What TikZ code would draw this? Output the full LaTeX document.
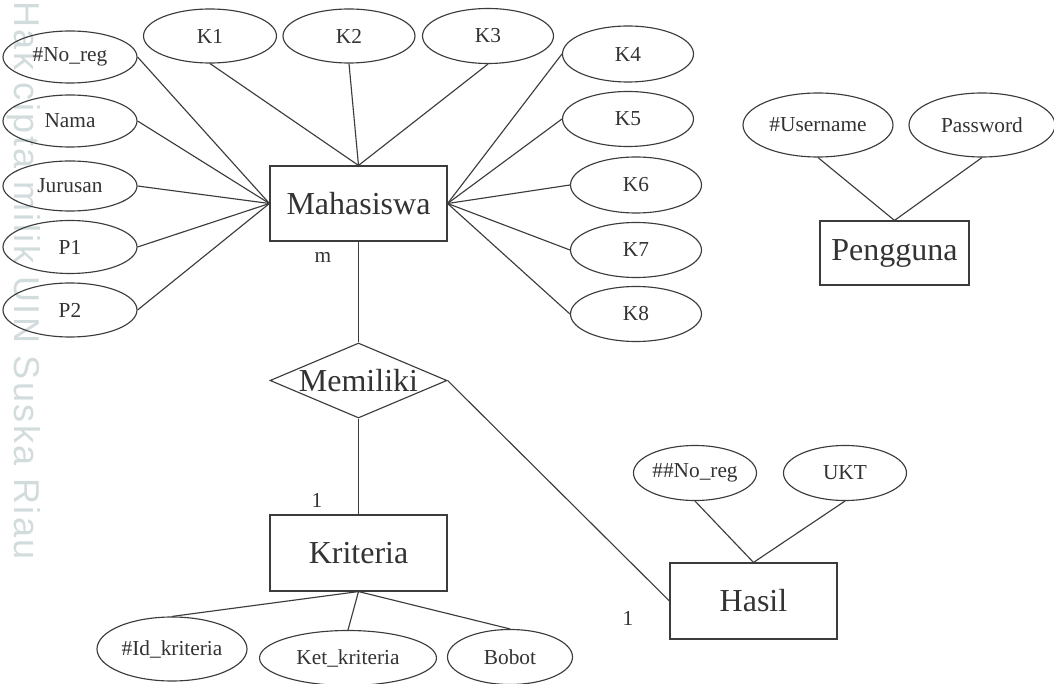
\documentclass[tikz,border=0pt]{standalone}
\usepackage{fontspec}
\setmainfont{Liberation Serif}
\newfontfamily\wmfont{Liberation Sans}
\usetikzlibrary{shapes.geometric}

\definecolor{ink}{HTML}{3C3C3C}
\definecolor{txt}{HTML}{333333}
\definecolor{wm}{HTML}{D3DCDC}

\tikzset{
  attr/.style={ellipse, draw=ink, line width=0.85pt, inner sep=0pt,
    text=txt, font=\fontsize{16}{19}\selectfont},
  entity/.style={rectangle, draw=ink, line width=0.85pt, inner sep=0pt,
    text=txt, font=\fontsize{24}{28}\selectfont},
  reldiamond/.style={diamond, draw=ink, line width=0.85pt, inner sep=0pt},
  bigtext/.style={text=txt, font=\fontsize{24}{28}\selectfont, inner sep=0pt},
  card/.style={text=txt, font=\fontsize{16}{19}\selectfont, inner sep=0pt},
  link/.style={draw=ink, line width=0.85pt},
  sz/.style 2 args={minimum width={#1*0.75pt}, minimum height={#2*0.75pt}}
}

\begin{document}
\begin{tikzpicture}[x=0.75pt, y=-0.75pt]
\useasboundingbox[fill=white] (0,0) rectangle (1054,684);

% faint vertical imprint on the left margin
\node[wm, rotate=-90, anchor=west, inner sep=0pt,
      font=\wmfont\fontsize{27}{30}\selectfont\addfontfeature{LetterSpace=7}]
      (imprint) at (24,1) {Hak cipta milik UIN Suska Riau};

% entities
\node[entity, sz={177}{75}] (mhs) at (358.5,203.5) {Mahasiswa};
\node[entity, sz={177}{76}] (krt) at (358.5,553) {Kriteria};
\node[entity, sz={167}{76}] (hsl) at (753.5,601) {Hasil};
\node[entity, sz={149}{64}] (png) at (894.5,253) {Pengguna};

% relationship
\node[reldiamond, sz={177}{75}] (rel) at (358.5,380.5) {};
\node[bigtext] (reltext) at (rel.center) {Memiliki};

% Mahasiswa attributes, left column
\node[attr, sz={134}{52}] (noreg) at (70,57) {\#No\_reg};
\node[attr, sz={134}{52}] (nama) at (70,121) {Nama};
\node[attr, sz={134}{50}] (jur) at (70,186) {Jurusan};
\node[attr, sz={134}{53}] (p1) at (70,247) {P1};
\node[attr, sz={134}{54}] (p2) at (70,310) {P2};

% Mahasiswa attributes, top row
\node[attr, sz={133}{54}] (k1) at (210,36) {K1};
\node[attr, sz={132}{54}] (k2) at (349,36) {K2};
\node[attr, sz={131}{55}] (k3) at (488,36) {K3};

% Mahasiswa attributes, right column
\node[attr, sz={131}{56}] (k4) at (628,54) {K4};
\node[attr, sz={131}{55}] (k5) at (628,119) {K5};
\node[attr, sz={131}{56}] (k6) at (636,185) {K6};
\node[attr, sz={131}{55}] (k7) at (636,250) {K7};
\node[attr, sz={131}{55}] (k8) at (636,314) {K8};

% Pengguna attributes
\node[attr, sz={150}{64}] (user) at (818,125) {\#Username};
\node[attr, sz={146}{64}] (pass) at (982,125) {Password};

% Hasil attributes
\node[attr, sz={123}{55}] (hnoreg) at (695,473) {\#\#No\_reg};
\node[attr, sz={123}{55}] (ukt) at (845,473) {UKT};

% Kriteria attributes
\node[attr, sz={150}{64}] (idk) at (172,649) {\#Id\_kriteria};
\node[attr, sz={177}{55}] (ketk) at (348,658) {Ket\_kriteria};
\node[attr, sz={125}{55}] (bobot) at (510,657) {Bobot};

% cardinalities
\node[card] (cm) at (323,257) {m};
\node[card] (ck) at (317,500) {1};
\node[card] (ch) at (628,618) {1};

% connectors
\foreach \a in {noreg,nama,jur,p1,p2} \draw[link] (\a.east) -- (mhs.west);
\foreach \a in {k1,k2,k3} \draw[link] (\a.south) -- (mhs.north);
\foreach \a in {k4,k5,k6,k7,k8} \draw[link] (\a.west) -- (mhs.east);
\foreach \a in {user,pass} \draw[link] (\a.south) -- (png.north);
\foreach \a in {hnoreg,ukt} \draw[link] (\a.south) -- (hsl.north);
\foreach \a in {idk,ketk,bobot} \draw[link] (\a.north) -- (krt.south);
\draw[link] (mhs.south) -- (rel.north);
\draw[link] (rel.south) -- (krt.north);
\draw[link] (rel.east) -- (hsl.west);
\end{tikzpicture}
\end{document}
